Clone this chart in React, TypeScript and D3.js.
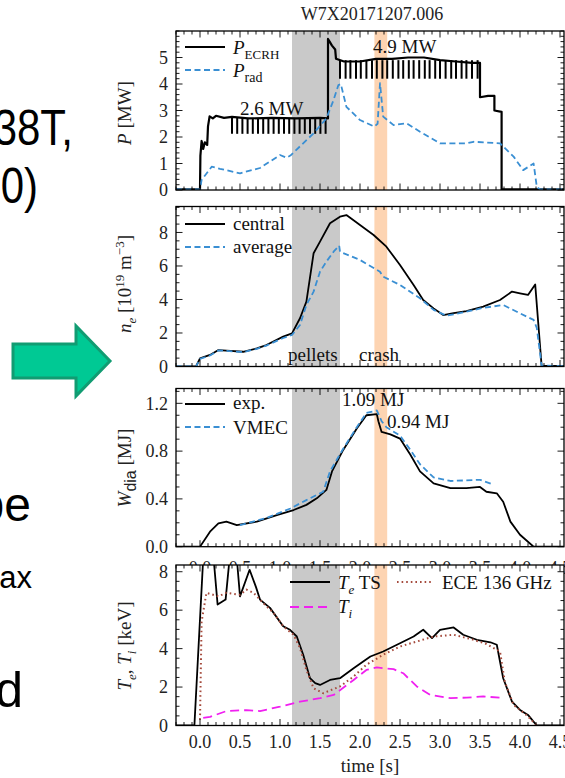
import React from 'react';
import * as d3 from 'd3';

const W = 565;
const H = 778;

// shared time axis
const timeTicks = [0, 0.5, 1, 1.5, 2, 2.5, 3, 3.5, 4, 4.5];
const pTicks = [0, 1, 2, 3, 4, 5];
const neTicks = [0, 2, 4, 6, 8];
const wTicks = [0, 0.4, 0.8, 1.2];
const teTicks = [0, 2, 4, 6, 8];

const pelletBand = [1.15, 1.75];
const crashBand = [2.18, 2.34];

// P_ECRH outline (notches drawn on top)
const ecrh: [number, number][] = [
  [-0.3, 0.02], [0, 0.02], [0.005, 1.3], [0.02, 1.85], [0.04, 1.55], [0.06, 1.8], [0.09, 1.7],
  [0.1, 2.4], [0.12, 2.78], [0.16, 2.7], [0.2, 2.8], [0.3, 2.72], [0.4, 2.76], [0.6, 2.7],
  [0.9, 2.72], [1.2, 2.7], [1.5, 2.72], [1.6, 2.7], [1.6, 5.7], [1.62, 5.6], [1.65, 5.45],
  [1.69, 5.3], [1.7, 4.95], [1.8, 4.85], [2.0, 4.85], [2.2, 4.95], [2.4, 4.95], [2.6, 5.0],
  [2.8, 5.0], [3.0, 4.9], [3.2, 4.85], [3.4, 4.8], [3.5, 4.8], [3.5, 3.5], [3.6, 3.55],
  [3.68, 3.55], [3.68, 3.0], [3.77, 2.95], [3.77, 0.02], [4.6, 0.02],
];
const ecrhNotchLow = [0.4, 0.465, 0.53, 0.595, 0.66, 0.725, 0.79, 0.855, 0.92, 0.985, 1.05,
  1.115, 1.18, 1.245, 1.31, 1.375, 1.44, 1.505, 1.57];
const ecrhNotchHigh = [1.75, 1.82, 1.88, 1.95, 2.01, 2.08, 2.15, 2.21, 2.28, 2.34, 2.41, 2.48,
  2.54, 2.61, 2.67, 2.74, 2.81, 2.87, 2.94, 3.0, 3.07, 3.14, 3.2, 3.27, 3.33, 3.4, 3.47];
// plateau level, notch bottom
const notchLow = [2.72, 2.12];
const notchHigh = [4.9, 4.2];

const prad: [number, number][] = [
  [-0.3, 0.02], [0, 0.02], [0.02, 0.38], [0.146, 0.88], [0.25, 0.8], [0.5, 0.63], [0.75, 0.83],
  [1.0, 1.32], [1.08, 1.22], [1.13, 1.3], [1.42, 2.14], [1.58, 2.7], [1.67, 3.4], [1.73, 3.96],
  [1.76, 4.0], [1.83, 3.14], [2.0, 2.64], [2.18, 2.39], [2.22, 2.5], [2.25, 4.03], [2.29, 2.77],
  [2.42, 2.45], [2.58, 2.52], [2.75, 2.2], [3.0, 1.76], [3.33, 1.76], [3.42, 1.82], [3.75, 1.76],
  [3.92, 1.26], [4.04, 0.75], [4.17, 1.0], [4.21, 0.12], [4.25, 0.02], [4.6, 0.02],
];

const neCentral: [number, number][] = [
  [-0.3, 0], [-0.05, 0], [0, 0.49], [0.125, 0.69], [0.23, 0.98], [0.33, 0.95], [0.54, 0.88],
  [0.71, 1.08], [0.83, 1.28], [1.04, 1.78], [1.15, 1.98], [1.25, 2.88], [1.33, 3.87],
  [1.42, 6.76], [1.5, 7.45], [1.625, 8.55], [1.75, 8.94], [1.83, 9.04], [2.0, 8.45],
  [2.17, 7.85], [2.33, 7.15], [2.5, 6.06], [2.67, 4.87], [2.79, 3.97], [2.92, 3.47],
  [3.04, 3.07], [3.17, 3.18], [3.33, 3.31], [3.54, 3.57], [3.75, 3.97], [3.9, 4.47],
  [4.0, 4.37], [4.1, 4.27], [4.19, 4.9], [4.27, 0.05], [4.6, 0.02],
];
const neAverage: [number, number][] = [
  [-0.3, 0], [-0.05, 0], [0, 0.45], [0.125, 0.66], [0.23, 0.96], [0.33, 0.93], [0.54, 0.86],
  [0.71, 1.05], [0.83, 1.25], [1.04, 1.7], [1.15, 1.88], [1.25, 2.48], [1.33, 3.67],
  [1.42, 4.47], [1.5, 5.66], [1.58, 6.26], [1.67, 6.85], [1.74, 7.21], [1.75, 6.85],
  [2.0, 6.36], [2.25, 5.66], [2.27, 5.5], [2.29, 5.36], [2.5, 4.87], [2.75, 4.07], [2.92, 3.38],
  [3.08, 3.03], [3.33, 3.27], [3.54, 3.5], [3.79, 3.67], [3.96, 3.27], [4.17, 2.78],
  [4.21, 2.3], [4.27, 0.05], [4.6, 0.02],
];

const wExp: [number, number][] = [
  [-0.3, 0], [0, 0], [0.125, 0.126], [0.23, 0.195], [0.33, 0.21], [0.46, 0.18], [0.71, 0.21],
  [0.96, 0.265], [1.17, 0.307], [1.33, 0.35], [1.46, 0.405], [1.58, 0.475], [1.65, 0.63],
  [1.79, 0.81], [1.96, 0.99], [2.08, 1.1], [2.21, 1.11], [2.23, 1.05], [2.27, 0.96],
  [2.38, 0.94], [2.5, 0.905], [2.63, 0.77], [2.75, 0.63], [2.92, 0.53], [3.13, 0.49],
  [3.33, 0.49], [3.5, 0.5], [3.58, 0.46], [3.71, 0.447], [3.79, 0.376], [3.88, 0.21],
  [4.0, 0.1], [4.17, 0.0], [4.6, 0.0],
];
const wVmec: [number, number][] = [
  [0.5, 0.18], [0.83, 0.24], [1.13, 0.32], [1.33, 0.39], [1.54, 0.46], [1.625, 0.63],
  [1.79, 0.82], [1.96, 1.0], [2.08, 1.12], [2.21, 1.14], [2.27, 1.05], [2.33, 1.0],
  [2.5, 0.93], [2.63, 0.81], [2.75, 0.69], [2.92, 0.58], [3.13, 0.55], [3.5, 0.56], [3.67, 0.52],
];

const teTS: [number, number][] = [
  [-0.3, 0], [-0.07, 0], [0.04, 8.7], [0.17, 8.7], [0.22, 6.29], [0.32, 6.55], [0.37, 8.7],
  [0.46, 8.7], [0.5, 6.72], [0.62, 8.1], [0.7, 7.2], [0.75, 6.55], [0.875, 6.12], [1.04, 5.16],
  [1.125, 4.98], [1.21, 4.63], [1.29, 3.68], [1.375, 2.46], [1.44, 2.2], [1.5, 2.11],
  [1.625, 2.37], [1.75, 2.46], [1.92, 2.98], [2.04, 3.33], [2.13, 3.59], [2.29, 3.85],
  [2.5, 4.28], [2.67, 4.63], [2.79, 4.98], [2.9, 4.55], [3.0, 4.98], [3.17, 5.1], [3.29, 4.72],
  [3.46, 4.46], [3.63, 4.33], [3.71, 4.2], [3.79, 2.46], [3.9, 1.24], [4.0, 0.81], [4.1, 0.55],
  [4.21, 0], [4.6, 0],
];
const teECE: [number, number][] = [
  [0.0, 0.3], [0.02, 5.4], [0.08, 6.9], [0.23, 6.72], [0.33, 6.9], [0.5, 6.8], [0.58, 7.07],
  [0.67, 6.9], [0.79, 6.37], [0.92, 5.85], [1.04, 5.16], [1.17, 4.72], [1.25, 4.03],
  [1.33, 2.89], [1.42, 1.94], [1.54, 1.68], [1.75, 2.03], [1.92, 2.55], [2.08, 3.16],
  [2.29, 3.68], [2.5, 4.11], [2.71, 4.37], [2.92, 4.63], [3.17, 4.72], [3.42, 4.46],
  [3.58, 4.24], [3.75, 3.85], [3.81, 2.28], [3.92, 1.07], [4.08, 0.55], [4.21, 0],
];
const ti: [number, number][] = [
  [0.04, 0.4], [0.125, 0.45], [0.33, 0.75], [0.58, 0.8], [0.75, 0.75], [1.0, 0.98],
  [1.25, 1.24], [1.5, 1.42], [1.67, 1.59], [1.92, 2.37], [2.08, 2.89], [2.21, 3.02],
  [2.42, 2.93], [2.54, 2.72], [2.71, 2.03], [2.88, 1.59], [3.13, 1.42], [3.33, 1.45],
  [3.54, 1.51], [3.75, 1.45],
];

const BLUE = '#3a8fd3';
const MAGENTA = '#f020f0';
const BROWN = '#a54a3c';
const SERIF = '"Liberation Serif", "Times New Roman", serif';
const SANS = '"Liberation Sans", Arial, sans-serif';

const x = d3.scaleLinear().domain([-0.3, 4.55]).range([176, 564]);
const xMinor = d3.range(-3, 46).map(i => i / 10);

type Line = { data: [number, number][]; color: string; width: number; dash?: string };
type PanelDef = {
  top: number; bottom: number; max: number; ticks: number[]; minor: number;
  fmt: (v: number) => string; lines: Line[]; xLabels: boolean; labelGap: number;
};

const panels: PanelDef[] = [
  {
    top: 31, bottom: 190, max: 6, ticks: pTicks, minor: 0.2, fmt: d3.format('d'), xLabels: false, labelGap: 0,
    lines: [
      { data: ecrh, color: '#000', width: 2.2 },
      { data: prad, color: BLUE, width: 1.8, dash: '6 3.5' },
    ],
  },
  {
    top: 206.5, bottom: 366.5, max: 9.55, ticks: neTicks, minor: 0.5, fmt: d3.format('d'), xLabels: false, labelGap: 0,
    lines: [
      { data: neCentral, color: '#000', width: 1.8 },
      { data: neAverage, color: BLUE, width: 1.8, dash: '6 3.5' },
    ],
  },
  {
    // its time labels are mostly hidden under the panel below
    top: 388.5, bottom: 546.7, max: 1.324, ticks: wTicks, minor: 0.1, fmt: d3.format('.1f'), xLabels: true, labelGap: 27,
    lines: [
      { data: wExp, color: '#000', width: 1.8 },
      { data: wVmec, color: BLUE, width: 1.8, dash: '6 3.5' },
    ],
  },
  {
    top: 565, bottom: 725.5, max: 8.35, ticks: teTicks, minor: 0.5, fmt: d3.format('d'), xLabels: true, labelGap: 22,
    lines: [
      { data: teTS, color: '#000', width: 1.8 },
      { data: ti, color: MAGENTA, width: 1.8, dash: '9 5' },
      { data: teECE, color: BROWN, width: 2, dash: '1.6 3' },
    ],
  },
];

const Panel = ({ p, idx, children }: { p: PanelDef; idx: number; children?: React.ReactNode }) => {
  const y = d3.scaleLinear().domain([0, p.max]).range([p.bottom, p.top]);
  const line = d3.line<[number, number]>().x(d => x(d[0])).y(d => y(d[1]));
  const x0 = x.range()[0];
  const x1 = x.range()[1];
  const yMinor = d3.range(0, Math.floor(p.max / p.minor + 1e-6) + 1).map(i => i * p.minor);
  const clip = `clip-${idx}`;
  return (
    <g>
      <clipPath id={clip}>
        <rect x={x0} y={p.top} width={x1 - x0} height={p.bottom - p.top} />
      </clipPath>
      <rect x={x0} y={p.top} width={x1 - x0} height={p.bottom - p.top} fill="#fff" />
      <g clipPath={`url(#${clip})`}>
        <rect x={x(pelletBand[0])} y={p.top} width={x(pelletBand[1]) - x(pelletBand[0])}
          height={p.bottom - p.top} fill="#c9c9c9" />
        <rect x={x(crashBand[0])} y={p.top} width={x(crashBand[1]) - x(crashBand[0])}
          height={p.bottom - p.top} fill="#fdd4b2" />
        {idx === 0 && (
          <g stroke="#000" strokeWidth={2}>
            {ecrhNotchLow.map(t => (
              <line key={t} x1={x(t)} x2={x(t)} y1={y(notchLow[0])} y2={y(notchLow[1])} />
            ))}
            {ecrhNotchHigh.map(t => (
              <line key={t} x1={x(t)} x2={x(t)} y1={y(notchHigh[0])} y2={y(notchHigh[1])} />
            ))}
          </g>
        )}
        {p.lines.map((l, i) => (
          <path key={i} d={line(l.data) || ''} fill="none" stroke={l.color}
            strokeWidth={l.width} strokeDasharray={l.dash} strokeLinejoin="round" />
        ))}
      </g>
      {/* ticks, inward on all sides */}
      <g stroke="#000" strokeWidth={0.9}>
        {xMinor.map(t => {
          const major = timeTicks.some(v => Math.abs(v - t) < 1e-6);
          const len = major ? 6.5 : 3.5;
          return (
            <g key={t}>
              <line x1={x(t)} x2={x(t)} y1={p.bottom} y2={p.bottom - len} />
              <line x1={x(t)} x2={x(t)} y1={p.top} y2={p.top + len} />
            </g>
          );
        })}
        {yMinor.map(v => {
          const major = p.ticks.some(t => Math.abs(t - v) < 1e-6);
          const len = major ? 6.5 : 3.5;
          return (
            <g key={v}>
              <line x1={x0} x2={x0 + len} y1={y(v)} y2={y(v)} />
              <line x1={x1} x2={x1 - len} y1={y(v)} y2={y(v)} />
            </g>
          );
        })}
      </g>
      <rect x={x0} y={p.top} width={x1 - x0} height={p.bottom - p.top} fill="none"
        stroke="#000" strokeWidth={1.3} />
      <g fontFamily={SERIF} fontSize={18} fill="#222">
        {p.ticks.map(v => (
          <text key={v} x={x0 - 8} y={y(v)} dy="0.35em" textAnchor="end">{p.fmt(v)}</text>
        ))}
        {p.xLabels && timeTicks.map(t => (
          <text key={t} x={x(t)} y={p.bottom + p.labelGap} textAnchor="middle">{d3.format('.1f')(t)}</text>
        ))}
      </g>
      {children}
    </g>
  );
};

const Sub = ({ children, size = 13, dy = 5, italic = false, family }: any) => (
  <tspan fontSize={size} dy={dy} fontStyle={italic ? 'italic' : 'normal'} fontFamily={family}>{children}</tspan>
);

const LegendLine = ({ x1, x2, yy, color, width = 2, dash }: any) => (
  <line x1={x1} x2={x2} y1={yy} y2={yy} stroke={color} strokeWidth={width} strokeDasharray={dash} />
);

export default function App() {
  return (
    <svg width={W} height={H} viewBox={`0 0 ${W} ${H}`}
      style={{ position: 'absolute', left: 0, top: 0, background: '#fff' }}>
      {/* slide fragments behind the figure */}
      <g fontFamily={SANS} fill="#000">
        <text transform="translate(73,145) scale(0.84,1)" fontSize={50} textAnchor="end">38T,</text>
        <text transform="translate(38,203) scale(0.84,1)" fontSize={50} textAnchor="end">0)</text>
        <text x={31} y={521} fontSize={48} textAnchor="end">pe</text>
        <text x={32} y={588} fontSize={31} textAnchor="end">ax</text>
        <text x={23} y={707} fontSize={50} textAnchor="end">d</text>
      </g>
      <polygon points="13,344 76,344 76,326 110,361 76,396 76,378 13,378"
        fill="#00c994" stroke="#119c72" strokeWidth={3} strokeLinejoin="miter" />

      <text x={372} y={20} textAnchor="middle" fontFamily={SERIF} fontSize={18} fill="#222">W7X20171207.006</text>

      <Panel p={panels[0]} idx={0}>
        <g fontFamily={SERIF} fontSize={19} fill="#111">
          <LegendLine x1={185} x2={225} yy={47} color="#000" width={2.2} />
          <text x={233} y={54}><tspan fontStyle="italic">P</tspan><Sub>ECRH</Sub></text>
          <LegendLine x1={185} x2={225} yy={70} color={BLUE} width={1.8} dash="6 3.5" />
          <text x={233} y={77}><tspan fontStyle="italic">P</tspan><Sub size={14}>rad</Sub></text>
          <text x={240} y={115}>2.6 MW</text>
          <text x={373} y={53}>4.9 MW</text>
        </g>
      </Panel>
      <Panel p={panels[1]} idx={1}>
        <g fontFamily={SERIF} fontSize={19} fill="#111">
          <LegendLine x1={185} x2={225} yy={224} color="#000" width={2} />
          <text x={233} y={230}>central</text>
          <LegendLine x1={185} x2={225} yy={247} color={BLUE} width={1.8} dash="6 3.5" />
          <text x={233} y={253}>average</text>
          <text x={288} y={361}>pellets</text>
          <text x={359} y={361}>crash</text>
        </g>
      </Panel>
      <Panel p={panels[2]} idx={2}>
        <g fontFamily={SERIF} fontSize={19} fill="#111">
          <LegendLine x1={185} x2={225} yy={404} color="#000" width={2} />
          <text x={233} y={409}>exp.</text>
          <LegendLine x1={185} x2={225} yy={427} color={BLUE} width={1.8} dash="6 3.5" />
          <text x={233} y={434}>VMEC</text>
          <text x={342} y={406}>1.09 MJ</text>
          <text x={387} y={428}>0.94 MJ</text>
        </g>
      </Panel>
      <Panel p={panels[3]} idx={3}>
        <g fontFamily={SERIF} fontSize={19} fill="#111">
          <LegendLine x1={290} x2={330} yy={582} color="#000" width={2} />
          <text x={338} y={589}><tspan fontStyle="italic">T</tspan><Sub italic>e</Sub><tspan dy={-5}> TS</tspan></text>
          <LegendLine x1={290} x2={330} yy={607} color={MAGENTA} width={1.8} dash="9 5" />
          <text x={338} y={613}><tspan fontStyle="italic">T</tspan><Sub italic>i</Sub></text>
          <LegendLine x1={397} x2={432} yy={582} color={BROWN} width={2} dash="1.6 3" />
          <text x={442} y={589}>ECE 136 GHz</text>
        </g>
      </Panel>

      {/* axis titles */}
      <g fontFamily={SERIF} fontSize={19} fill="#222" textAnchor="middle">
        <text transform="translate(131,113) rotate(-90)">
          <tspan fontStyle="italic">P</tspan> [MW]
        </text>
        <text transform="translate(131,284) rotate(-90)">
          <tspan fontStyle="italic">n</tspan><Sub italic>e</Sub>
          <tspan dy={-5}> [10</tspan><tspan fontSize={13} dy={-7}>19</tspan>
          <tspan dy={7}> m</tspan><tspan fontSize={13} dy={-7}>−3</tspan><tspan dy={7}>]</tspan>
        </text>
        <text transform="translate(131,468) rotate(-90)">
          <tspan fontStyle="italic">W</tspan><Sub size={16} family={SANS}>dia</Sub>
          <tspan dy={-5}> [MJ]</tspan>
        </text>
        <text transform="translate(131,646) rotate(-90)">
          <tspan fontStyle="italic">T</tspan><Sub italic>e</Sub><tspan dy={-5}>, </tspan>
          <tspan fontStyle="italic">T</tspan><Sub italic>i</Sub><tspan dy={-5}> [keV]</tspan>
        </text>
        <text x={370} y={772}>time [s]</text>
      </g>
    </svg>
  );
}
